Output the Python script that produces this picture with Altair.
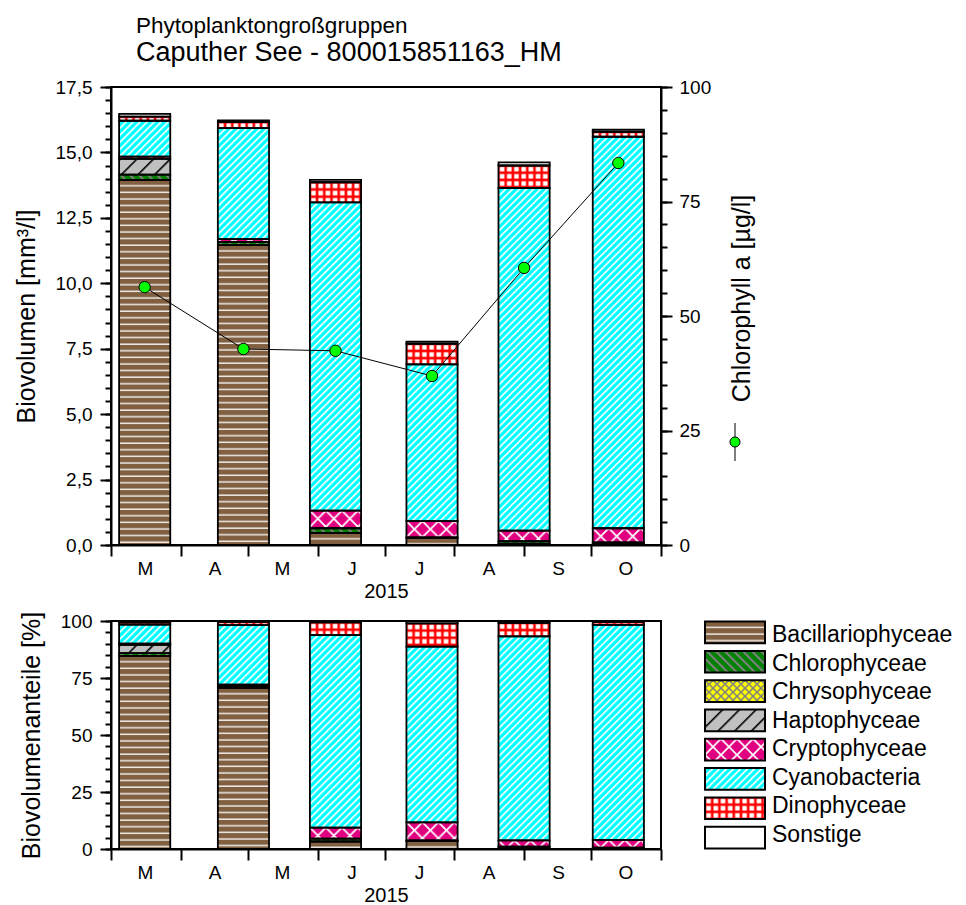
import json
import urllib.parse

import altair as alt
import pandas as pd

# ---------------- data ----------------
SAMPLE_DATES = ["2015-03-16", "2015-04-29", "2015-06-09", "2015-07-22", "2015-09-01", "2015-10-13"]
GROUPS = ["Bacillariophyceae", "Chlorophyceae", "Chrysophyceae", "Haptophyceae",
          "Cryptophyceae", "Cyanobacteria", "Dinophyceae", "Sonstige"]
BACILLARIOPHYCEAE = [13.95, 11.46, 0.46, 0.27, 0.05, 0.05]
CHLOROPHYCEAE = [0.20, 0.12, 0.18, 0.02, 0.10, 0.05]
CHRYSOPHYCEAE = [0.0, 0.0, 0.0, 0.0, 0.0, 0.0]
HAPTOPHYCEAE = [0.60, 0.0, 0.0, 0.0, 0.0, 0.0]
CRYPTOPHYCEAE = [0.09, 0.11, 0.67, 0.62, 0.40, 0.54]
CYANOBACTERIA = [1.37, 4.24, 11.78, 5.99, 13.09, 14.96]
DINOPHYCEAE = [0.16, 0.23, 0.77, 0.79, 0.86, 0.19]
SONSTIGE = [0.10, 0.06, 0.09, 0.08, 0.12, 0.08]
CHLOROPHYLL_A = [56.3, 42.8, 42.4, 36.9, 60.5, 83.4]

MONTH_LETTERS = ["M", "A", "M", "J", "J", "A", "S", "O"]
BIOVOL_TICKS = [0, 2.5, 5, 7.5, 10, 12.5, 15, 17.5]
BIOVOL_MINOR = [i * 0.5 for i in range(36)]
CHLA_TICKS = [0, 25, 50, 75, 100]
CHLA_MINOR = list(range(0, 101, 5))
PCT_TICKS = [0, 25, 50, 75, 100]
PCT_MINOR = list(range(0, 101, 5))

FONT = "Liberation Sans"
HALF_BAR_MS = 11.4 * 86400000


# ---------------- fill patterns (style) ----------------
def pattern_uri(w, h, body, transform=None):
    tr = f" patternTransform='{transform}'" if transform else ""
    svg = ("<svg xmlns='http://www.w3.org/2000/svg'>"
           f"<defs><pattern id='p' patternUnits='userSpaceOnUse' width='{w}' height='{h}'{tr}>"
           f"{body}</pattern></defs>"
           "<rect width='100%' height='100%' fill='url(#p)'/></svg>")
    return "data:image/svg+xml," + urllib.parse.quote(svg, safe="")


PATTERNS = {
    "Bacillariophyceae": pattern_uri(8, 6.6, "<rect width='8' height='6.6' fill='#806040'/>"
                                             "<rect y='5.2' width='8' height='1.3' fill='#ffffff'/>"),
    "Chlorophyceae": pattern_uri(6.4, 10, "<rect width='6.4' height='10' fill='#008000'/>"
                                          "<rect width='2' height='10' fill='#808080'/>", "rotate(-45)"),
    "Chrysophyceae": pattern_uri(8, 8, "<rect width='8' height='8' fill='#ffff00'/>"
                                       "<path d='M0,0L8,8M8,0L0,8' stroke='#808080' stroke-width='1.5'/>"),
    "Haptophyceae": pattern_uri(11.8, 10, "<rect width='11.8' height='10' fill='#c0c0c0'/>"
                                          "<rect width='1.6' height='10' fill='#000000'/>", "rotate(45)"),
    "Cryptophyceae": pattern_uri(16, 16, "<rect width='16' height='16' fill='#e0007f'/>"
                                         "<path d='M0,0L16,16M16,0L0,16' stroke='#ffffff' stroke-width='1.8'/>"),
    "Cyanobacteria": pattern_uri(4.95, 10, "<rect width='4.95' height='10' fill='#00ffff'/>"
                                           "<rect width='1.7' height='10' fill='#ffffff'/>", "rotate(45)"),
    "Dinophyceae": pattern_uri(7.2, 7.2, "<rect width='7.2' height='7.2' fill='#ff0000'/>"
                                         "<rect x='1.3' y='1.3' width='4.6' height='4.6' fill='#ffffff'/>"),
    "Sonstige": pattern_uri(4, 4, "<rect width='4' height='4' fill='#ffffff'/>"),
}

SERIES = [BACILLARIOPHYCEAE, CHLOROPHYCEAE, CHRYSOPHYCEAE, HAPTOPHYCEAE,
          CRYPTOPHYCEAE, CYANOBACTERIA, DINOPHYCEAE, SONSTIGE]
rows = []
for gi, (g, vals) in enumerate(zip(GROUPS, SERIES)):
    for d, v in zip(SAMPLE_DATES, vals):
        rows.append({"date": d, "group": g, "order": gi, "value": v, "pattern": PATTERNS[g]})
df = pd.DataFrame(rows)
chl_df = pd.DataFrame({"date": SAMPLE_DATES, "chla": CHLOROPHYLL_A})
leg_df = pd.DataFrame({"group": GROUPS, "pattern": [PATTERNS[g] for g in GROUPS]})
glyph_df = pd.DataFrame({"k": [0]})

# ---------------- scales / axes ----------------
XSCALE = alt.Scale(type="utc", domain=[alt.DateTime(year=2015, month=3, date=1, utc=True),
                                       alt.DateTime(year=2015, month=11, date=1, utc=True)])
MONTH_STARTS = [alt.DateTime(year=2015, month=m, date=1, utc=True) for m in range(3, 12)]
label_expr = json.dumps(MONTH_LETTERS + [""]) + "[utcmonth(datum.value) - 2]"


def x_axis():
    return alt.Axis(orient="bottom", values=MONTH_STARTS, labelExpr=label_expr, labelOffset=34,
                    tickSize=11, labelFlush=False, labelOverlap=False, title="2015",
                    labelPadding=3, titlePadding=3)


def stacked(pct=False):
    c = alt.Chart(df).transform_filter("datum.value > 0")
    f = "value"
    if pct:
        c = c.transform_joinaggregate(total="sum(value)", groupby=["date"]).transform_calculate(
            share="100 * datum.value / datum.total")
        f = "share"
    c = c.transform_calculate(xl=f"toDate(datum.date) - {HALF_BAR_MS}",
                              xr=f"toDate(datum.date) + {HALF_BAR_MS}")
    c = c.transform_stack(stack=f, groupby=["date"], as_=["s0", "s1"],
                          sort=[alt.SortField(field="order", order="ascending")])
    return c


def bar_layers(pct, domain, major_vals, minor_vals, fmt_expr, title):
    yscale = alt.Scale(domain=domain, nice=False, zero=True)
    img = stacked(pct).mark_image(aspect=False).encode(
        x=alt.X("xl:T", scale=XSCALE, axis=None),
        x2="xr:T",
        y=alt.Y("s1:Q", scale=yscale,
                axis=alt.Axis(orient="left", values=minor_vals, labels=False, domain=False,
                              tickSize=6, title=None)),
        y2="s0:Q",
        url="pattern:N",
    )
    if fmt_expr:
        major = alt.Axis(orient="left", values=major_vals, tickSize=11, title=title, format=".1f",
                         labelExpr=fmt_expr, labelPadding=8, titlePadding=16)
    else:
        major = alt.Axis(orient="left", values=major_vals, tickSize=11, title=title,
                         labelPadding=8, titlePadding=16)
    outline = stacked(pct).mark_bar(fillOpacity=0, stroke="black", strokeWidth=1.8).encode(
        x=alt.X("xl:T", scale=XSCALE, axis=x_axis()),
        x2="xr:T",
        y=alt.Y("s1:Q", scale=yscale, axis=major),
        y2="s0:Q",
    )
    return img, outline


img_top, bar_top = bar_layers(False, [0, 17.5], BIOVOL_TICKS, BIOVOL_MINOR,
                              "replace(datum.label, '.', ',')", "Biovolumen [mm³/l]")

chl_scale = alt.Scale(domain=[0, 100], nice=False)
chl_line = alt.Chart(chl_df).mark_line(color="black", strokeWidth=1).encode(
    x=alt.X("date:T", scale=XSCALE, axis=None),
    y=alt.Y("chla:Q", scale=chl_scale,
            axis=alt.Axis(orient="right", values=CHLA_TICKS, tickSize=11, title="Chlorophyll a [µg/l]",
                          titleAngle=270, titleX=80, titleY=211, titleAlign="center",
                          titleBaseline="middle", labelPadding=7)),
)
chl_pts = alt.Chart(chl_df).mark_circle(size=130, color="#00ff00", opacity=1, stroke="black",
                                        strokeWidth=1).encode(
    x=alt.X("date:T", scale=XSCALE, axis=None),
    y=alt.Y("chla:Q", scale=chl_scale,
            axis=alt.Axis(orient="right", values=CHLA_MINOR, labels=False, domain=False, tickSize=6,
                          title=None)),
)
glyph_rule = alt.Chart(glyph_df).mark_rule(color="black", strokeWidth=1).encode(
    x=alt.value(624), y=alt.value(336), y2=alt.value(374))
glyph_pt = alt.Chart(glyph_df).mark_circle(size=100, color="#00ff00", opacity=1, stroke="black",
                                           strokeWidth=1).encode(x=alt.value(624), y=alt.value(355))

top = alt.layer(img_top, bar_top, chl_line, chl_pts, glyph_rule, glyph_pt).resolve_scale(
    y="independent").resolve_axis(y="independent", x="independent").properties(
    width=550, height=458,
    title=alt.TitleParams(text="Phytoplanktongroßgruppen", subtitle="Caputher See - 800015851163_HM",
                          anchor="start", frame="group", dx=25, fontSize=22.5, subtitleFontSize=27,
                          font=FONT, subtitleFont=FONT, fontWeight="normal", color="black",
                          subtitleColor="black", subtitlePadding=3, offset=12),
)

img_bot, bar_bot = bar_layers(True, [0, 100], PCT_TICKS, PCT_MINOR, None, "Biovolumenanteile [%]")

leg_y = alt.Y("group:N", sort=GROUPS, axis=None, scale=alt.Scale(paddingInner=0.26, paddingOuter=0.02))
leg_img = alt.Chart(leg_df).mark_image(aspect=False).encode(
    x=alt.value(594), x2=alt.value(654), y=leg_y, url="pattern:N")
leg_box = alt.Chart(leg_df).mark_bar(fillOpacity=0, stroke="black", strokeWidth=2).encode(
    x=alt.value(594), x2=alt.value(654), y=leg_y)
leg_txt = alt.Chart(leg_df).mark_text(align="left", baseline="middle", fontSize=23, font=FONT,
                                      color="black").encode(x=alt.value(661), y=leg_y, text="group:N")

bottom = alt.layer(img_bot, bar_bot, leg_img, leg_box, leg_txt).resolve_scale(
    y="independent").resolve_axis(y="independent", x="independent").properties(width=550, height=228)

chart = alt.vconcat(top, bottom, spacing=8).properties(
    padding={"left": 5, "top": 5, "right": 0, "bottom": 0}
).configure(font=FONT).configure_view(
    stroke="black", strokeWidth=2
).configure_axis(
    labelFont=FONT, titleFont=FONT, labelFontSize=19, titleFontSize=25, labelColor="black",
    titleColor="black", tickColor="black", domainColor="black", tickWidth=2, domainWidth=2,
    grid=False, titleFontWeight="normal",
).configure_axisX(titleFontSize=20)

chart.save("out.html", embed_options={"renderer": "svg", "actions": False})
